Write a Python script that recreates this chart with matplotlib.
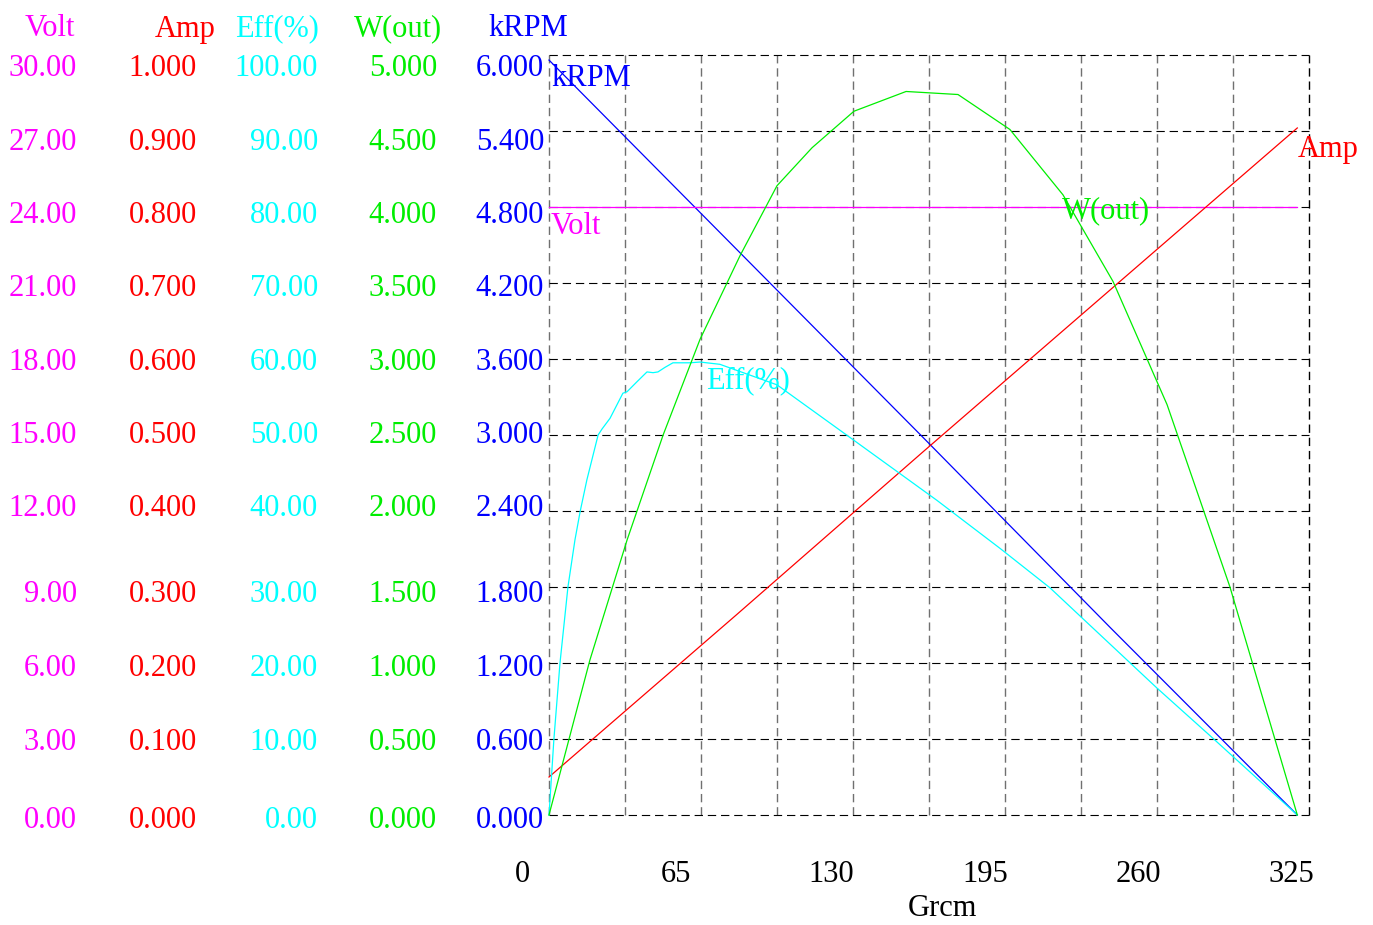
#!/usr/bin/env python3
import numpy as np
import matplotlib
matplotlib.use("Agg")
import matplotlib.pyplot as plt

# motor curve data
torque_volt = [0, 320]
volt = [24.0, 24.0]

torque_amp = [0, 80, 160, 240, 320]
amp = [0.05, 0.263, 0.478, 0.691, 0.904]

torque_rpm = [0, 80, 160, 240, 320]
krpm = [5.96, 4.47, 2.98, 1.48, 0.0]

torque_eff = [0, 2.1, 4.7, 8.1, 11.1, 13.3, 16.2, 21.0, 22.7, 26.1, 31.6, 33.4,
              37.6, 41.9, 44.5, 46.6, 49.6, 53.0, 60.3, 64.6, 73.1, 97.5,
              130.4, 165.9, 192.8, 214.2, 260.0, 283.9, 320]
eff = [0, 10.0, 20.0, 30.0, 36.2, 39.9, 44.1, 50.0, 50.8, 52.2, 55.5, 55.7,
       57.0, 58.3, 58.2, 58.3, 58.9, 59.5, 59.5, 59.6, 59.3, 56.6,
       49.3, 41.4, 35.1, 29.9, 16.7, 10.1, 0]

torque_w = [0, 17.5, 33.4, 48.8, 64.6, 81.7, 97.5, 112.5, 130.4, 152.7, 174.9,
            197.1, 219.8, 241.2, 264.3, 291.2, 320]
w_out = [0, 1.02, 1.81, 2.50, 3.13, 3.68, 4.14, 4.39, 4.63, 4.76, 4.74,
         4.51, 4.08, 3.51, 2.70, 1.50, 0]

# scale labels (columns on the left)
volt_labels = ["30.00", "27.00", "24.00", "21.00", "18.00", "15.00", "12.00", "9.00", "6.00", "3.00", "0.00"]
amp_labels = ["1.000", "0.900", "0.800", "0.700", "0.600", "0.500", "0.400", "0.300", "0.200", "0.100", "0.000"]
eff_labels = ["100.00", "90.00", "80.00", "70.00", "60.00", "50.00", "40.00", "30.00", "20.00", "10.00", "0.00"]
w_labels = ["5.000", "4.500", "4.000", "3.500", "3.000", "2.500", "2.000", "1.500", "1.000", "0.500", "0.000"]
krpm_labels = ["6.000", "5.400", "4.800", "4.200", "3.600", "3.000", "2.400", "1.800", "1.200", "0.600", "0.000"]
x_labels = ["0", "65", "130", "195", "260", "325"]

MAGENTA = "#ff00ff"
RED = "#ff0000"
CYAN = "#00ffff"
GREEN = "#00ee00"
BLUE = "#0000ff"

W, H = 1373, 925
plt.rcParams['font.family'] = ['Liberation Serif', 'DejaVu Serif']
plt.rcParams['lines.scale_dashes'] = False
FS = 22

fig = plt.figure(figsize=(W / 100, H / 100), dpi=100)
ax = fig.add_axes([549 / W, 1 - 815 / H, 760 / W, 760 / H])


def ftext(px, py, s, color, ha='center', **kw):
    # text placed by pixel position of the reference, nudged down a bit
    fig.text(px / W, 1 - (py + 3) / H, s, color=color, ha=ha, va='center', fontsize=FS, **kw)


ax.set_xlim(0, 325)
ax.set_ylim(0, 6)
ax.set_xticks(np.linspace(0, 325, 11))
ax.set_yticks(np.linspace(0, 6, 11))
ax.tick_params(length=0, labelbottom=False, labelleft=False)
for s in ax.spines.values():
    s.set_visible(False)
ax.xaxis.grid(True, color='#707070', linewidth=1.0, dashes=(6, 3.5))
ax.yaxis.grid(True, color='black', linewidth=0.8, dashes=(6, 3.5))
for gl in ax.get_xgridlines() + ax.get_ygridlines():
    gl.set_clip_on(False)
# right edge is drawn darker
ax.get_xgridlines()[-1].set_color('black')

ax.plot(torque_rpm, krpm, color=BLUE, lw=0.9, clip_on=False)

series = [
    (torque_volt, volt, 30, MAGENTA),
    (torque_amp, amp, 1.0, RED),
    (torque_eff, eff, 100, CYAN),
    (torque_w, w_out, 5, GREEN),
]
for tx, vals, top, col in series:
    a = ax.twinx()
    a.set_ylim(0, top)
    a.set_axis_off()
    a.plot(tx, vals, color=col, lw=0.9, clip_on=False)

# headers
ftext(50, 26, "Volt", MAGENTA)
ftext(185, 26, "Amp", RED)
ftext(277, 26, "Eff(%)", CYAN)
ftext(398, 26, "W(out)", GREEN)
ftext(528, 26, "kRPM", BLUE)

rows_y = [66, 139, 212, 286, 359, 432, 506, 591, 665, 739, 818]
for i, y in enumerate(rows_y):
    ftext(77, y, volt_labels[i], MAGENTA, ha='right')
    ftext(197, y, amp_labels[i], RED, ha='right')
    ftext(318, y, eff_labels[i], CYAN, ha='right')
    ftext(437, y, w_labels[i], GREEN, ha='right')
    ftext(544, y, krpm_labels[i], BLUE, ha='right')

for px, lab in zip([522, 676, 831, 985, 1138, 1291], x_labels):
    ftext(px, 872, lab, 'black')
ftext(942, 905, "Grcm", 'black')

# curve names inside the plot
ftext(551, 76, "kRPM", BLUE, ha='left')
ftext(551, 223, "Volt", MAGENTA, ha='left')
ftext(706, 378, "Eff(%)", CYAN, ha='left')
ftext(1062, 208, "W(out)", GREEN, ha='left')
ftext(1298, 146, "Amp", RED, ha='left')

fig.savefig("out.png", dpi=100, facecolor='white')
